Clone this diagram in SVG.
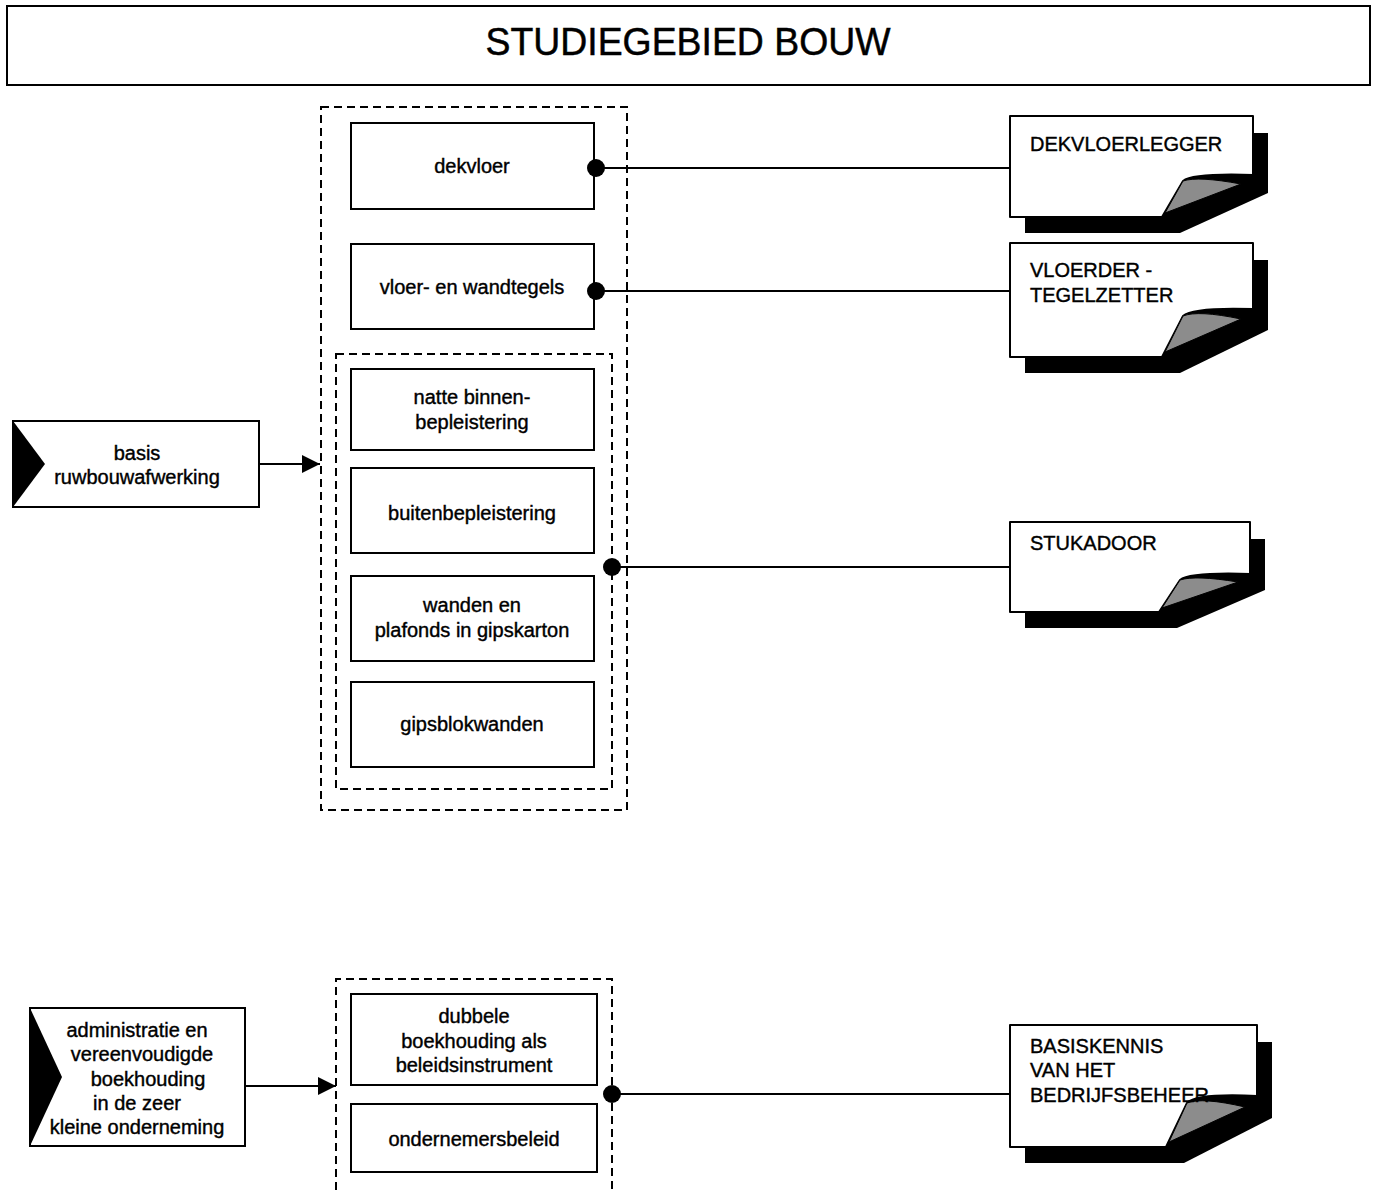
<svg xmlns="http://www.w3.org/2000/svg" width="1377" height="1190" viewBox="0 0 1377 1190">
<style>
  .bg{fill:#ffffff}
  .box{fill:#ffffff;stroke:#000;stroke-width:2}
  .dash{fill:none;stroke:#000;stroke-width:2;stroke-dasharray:8 5}
  .t{font-family:"Liberation Sans",Arial,sans-serif;font-size:20px;fill:#000;stroke:#000;stroke-width:0.4;text-anchor:middle}
  .tl{font-family:"Liberation Sans",Arial,sans-serif;font-size:20px;fill:#000;stroke:#000;stroke-width:0.4;text-anchor:start}
  .title{font-family:"Liberation Sans",Arial,sans-serif;font-size:38px;fill:#000;stroke:#000;stroke-width:0.5;text-anchor:middle}
  .tri{fill:#000}
  .page{fill:#ffffff;stroke:#000;stroke-width:2;stroke-linejoin:round}
  .flap{fill:#8c8c8c;stroke:#000;stroke-width:1}
  .shadow{fill:#000}
  .conn{fill:none;stroke:#000;stroke-width:2}
  .dot{marker-start:url(#dot)}
  .arr{marker-end:url(#arrow)}
</style>
<defs>
  <marker id="dot" markerUnits="userSpaceOnUse" markerWidth="20" markerHeight="20" refX="10" refY="10" orient="auto">
    <circle cx="10" cy="10" r="9" fill="#000"/>
  </marker>
  <marker id="arrow" markerUnits="userSpaceOnUse" markerWidth="20" markerHeight="20" refX="18" refY="9" orient="auto">
    <path d="M0,0 L18,9 L0,18 Z" fill="#000"/>
  </marker>
</defs>
<rect class="bg" x="0" y="0" width="1377" height="1190"/>

<g id="title">
  <rect class="box" x="7" y="6" width="1363" height="79"/>
  <text class="title" x="688" y="55" textLength="405" lengthAdjust="spacingAndGlyphs">STUDIEGEBIED BOUW</text>
</g>

<g id="group-outer">
  <rect class="dash" x="321" y="107" width="306" height="703"/>
</g>
<g id="group-inner">
  <rect class="dash" x="336" y="354" width="276" height="435"/>
</g>
<g id="group-bottom">
  <path class="dash" d="M336,1190 V979 H612 V1190"/>
</g>

<g id="dekvloer">
  <rect class="box" x="351" y="123" width="243" height="86"/>
  <text class="t" x="472" y="173">dekvloer</text>
</g>
<g id="vloer-wandtegels">
  <rect class="box" x="351" y="244" width="243" height="85"/>
  <text class="t" x="472" y="294">vloer- en wandtegels</text>
</g>
<g id="natte-binnenbepleistering">
  <rect class="box" x="351" y="369" width="243" height="81"/>
  <text class="t" x="472" y="404">natte binnen-</text>
  <text class="t" x="472" y="429">bepleistering</text>
</g>
<g id="buitenbepleistering">
  <rect class="box" x="351" y="468" width="243" height="85"/>
  <text class="t" x="472" y="520">buitenbepleistering</text>
</g>
<g id="wanden-plafonds">
  <rect class="box" x="351" y="576" width="243" height="85"/>
  <text class="t" x="472" y="612">wanden en</text>
  <text class="t" x="472" y="637">plafonds in gipskarton</text>
</g>
<g id="gipsblokwanden">
  <rect class="box" x="351" y="682" width="243" height="85"/>
  <text class="t" x="472" y="731">gipsblokwanden</text>
</g>

<g id="dubbele-boekhouding">
  <rect class="box" x="351" y="994" width="246" height="91"/>
  <text class="t" x="474" y="1023">dubbele</text>
  <text class="t" x="474" y="1048">boekhouding als</text>
  <text class="t" x="474" y="1072">beleidsinstrument</text>
</g>
<g id="ondernemersbeleid">
  <rect class="box" x="351" y="1104" width="246" height="68"/>
  <text class="t" x="474" y="1146">ondernemersbeleid</text>
</g>

<g id="basis-ruwbouwafwerking">
  <rect class="box" x="13" y="421" width="246" height="86"/>
  <path class="tri" d="M13,421 L45,464 L13,507 Z"/>
  <text class="t" x="137" y="460">basis</text>
  <text class="t" x="137" y="484">ruwbouwafwerking</text>
</g>
<g id="administratie">
  <rect class="box" x="30" y="1008" width="215" height="138"/>
  <path class="tri" d="M30,1008 L62,1077 L30,1146 Z"/>
  <text class="t" x="137" y="1037">administratie en</text>
  <text class="t" x="142" y="1061">vereenvoudigde</text>
  <text class="t" x="148" y="1086">boekhouding</text>
  <text class="t" x="137" y="1110">in de zeer</text>
  <text class="t" x="137" y="1134">kleine onderneming</text>
</g>

<g id="connectors">
  <path class="conn dot" d="M596,168 H1010"/>
  <path class="conn dot" d="M596,291 H1010"/>
  <path class="conn dot" d="M612,567 H1010"/>
  <path class="conn dot" d="M612,1094 H1010"/>
  <path class="conn arr" d="M259,464 H320"/>
  <path class="conn arr" d="M245,1086 H336"/>
</g>

<g id="dekvloerlegger">
  <path class="shadow" d="M1025,133 H1268 V193 L1180,233 H1025 Z"/>
  <path class="page" d="M1010,116 H1253 V175 Q1193,173 1183,181 L1162,217 H1010 Z"/>
  <path class="flap" d="M1183,181 Q1198,176 1241,184 L1165,213 Z"/>
  <text class="tl" x="1030" y="151">DEKVLOERLEGGER</text>
</g>
<g id="vloerder-tegelzetter">
  <path class="shadow" d="M1025,260 H1268 V330 L1180,373 H1025 Z"/>
  <path class="page" d="M1010,243 H1253 V309 Q1193,307 1183,316 L1162,357 H1010 Z"/>
  <path class="flap" d="M1183,316 Q1198,310 1241,319 L1165,352 Z"/>
  <text class="tl" x="1030" y="277">VLOERDER -</text>
  <text class="tl" x="1030" y="302">TEGELZETTER</text>
</g>
<g id="stukadoor">
  <path class="shadow" d="M1025,539 H1265 V590 L1177,628 H1025 Z"/>
  <path class="page" d="M1010,522 H1250 V574 Q1190,572 1180,580 L1159,612 H1010 Z"/>
  <path class="flap" d="M1180,580 Q1195,575 1238,582 L1162,608 Z"/>
  <text class="tl" x="1030" y="550">STUKADOOR</text>
</g>
<g id="basiskennis">
  <path class="shadow" d="M1025,1042 H1272 V1118 L1184,1163 H1025 Z"/>
  <path class="page" d="M1010,1025 H1257 V1096 Q1197,1093 1187,1103 L1166,1147 H1010 Z"/>
  <path class="flap" d="M1187,1103 Q1202,1097 1245,1107 L1169,1142 Z"/>
  <text class="tl" x="1030" y="1053">BASISKENNIS</text>
  <text class="tl" x="1030" y="1077">VAN HET</text>
  <text class="tl" x="1030" y="1102">BEDRIJFSBEHEER</text>
</g>
</svg>
